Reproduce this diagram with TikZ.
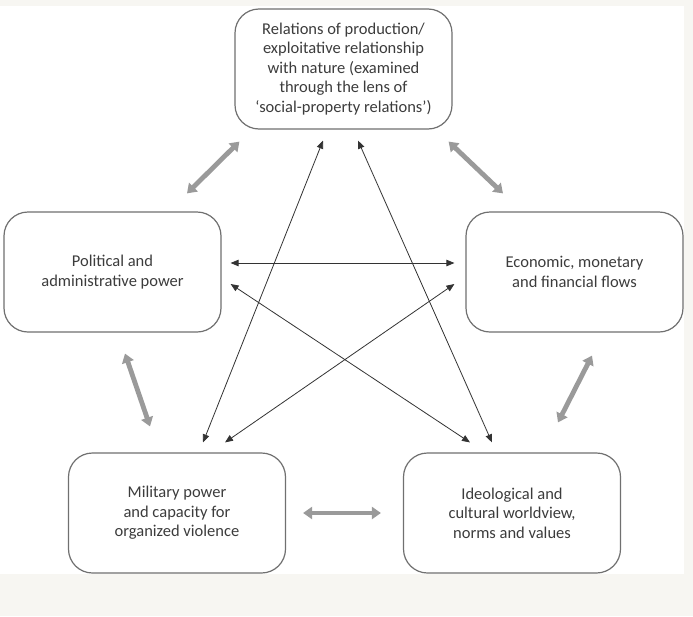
\documentclass[tikz,border=0pt]{standalone}
\usepackage{fontspec}
\setmainfont{Carlito}
\usetikzlibrary{arrows.meta,calc}
\definecolor{bgstrip}{HTML}{F7F6F2}
\definecolor{boxline}{HTML}{707070}
\definecolor{txtgrey}{HTML}{3C3C3C}
\definecolor{linkgrey}{HTML}{9A9A9A}
\begin{document}
\begin{tikzpicture}[x=1pt,y=-1pt,
  realm/.style={draw=boxline,line width=1.2pt,rounded corners=24pt,minimum width=217pt,minimum height=120pt,align=center,text=txtgrey,font=\fontsize{16.5}{19.5}\selectfont},
  cross/.style={{Triangle[length=8pt,width=6.5pt]}-{Triangle[length=8pt,width=6.5pt]},line width=0.8pt,draw=black!80},
  mutual/.style={{Triangle[length=9pt,width=12pt]}-{Triangle[length=9pt,width=12pt]},line width=4.8pt,draw=linkgrey}]
\fill[bgstrip] (0,0) rectangle (693,616);
\fill[white] (0,6) rectangle (684,574);
\node[realm] (prod) at (343.5,69) {Relations of production/\\exploitative relationship\\with nature (examined\\through the lens of\\`social-property relations')};
\node[realm] (pol) at (112.5,272) {Political and\\administrative power};
\node[realm] (eco) at (574.5,272) {Economic, monetary\\and financial flows};
\node[realm] (mil) at (177,513) {Military power\\and capacity for\\organized violence};
\node[realm] (ide) at (512,513) {Ideological and\\cultural worldview,\\norms and values};
\draw[mutual] ($(pol.north)+(74.5,-18)$) -- ($(prod.south west)+(5,12)$);
\draw[mutual] ($(prod.south east)+(-4,12)$) -- ($(eco.north)+(-71.5,-18)$);
\draw[mutual] ($(pol.south)+(12.5,21)$) -- ($(mil.north)+(-27,-26)$);
\draw[mutual] ($(eco.south)+(17.5,23)$) -- ($(ide.north)+(46,-30)$);
\draw[mutual] ($(mil.east)+(17,0)$) -- ($(ide.west)+(-22,0)$);
\draw[cross] ($(pol.east)+(9,-9)$) -- ($(eco.west)+(-11,-9)$);
\draw[cross] ($(pol.east)+(9,12)$) -- ($(ide.north)+(-42,-10)$);
\draw[cross] ($(eco.west)+(-11,12)$) -- ($(mil.north)+(48,-10)$);
\draw[cross] ($(prod.south)+(-20.5,11)$) -- ($(mil.north)+(26,-10)$);
\draw[cross] ($(prod.south)+(14.5,11)$) -- ($(ide.north)+(-20,-10)$);
\end{tikzpicture}
\end{document}
